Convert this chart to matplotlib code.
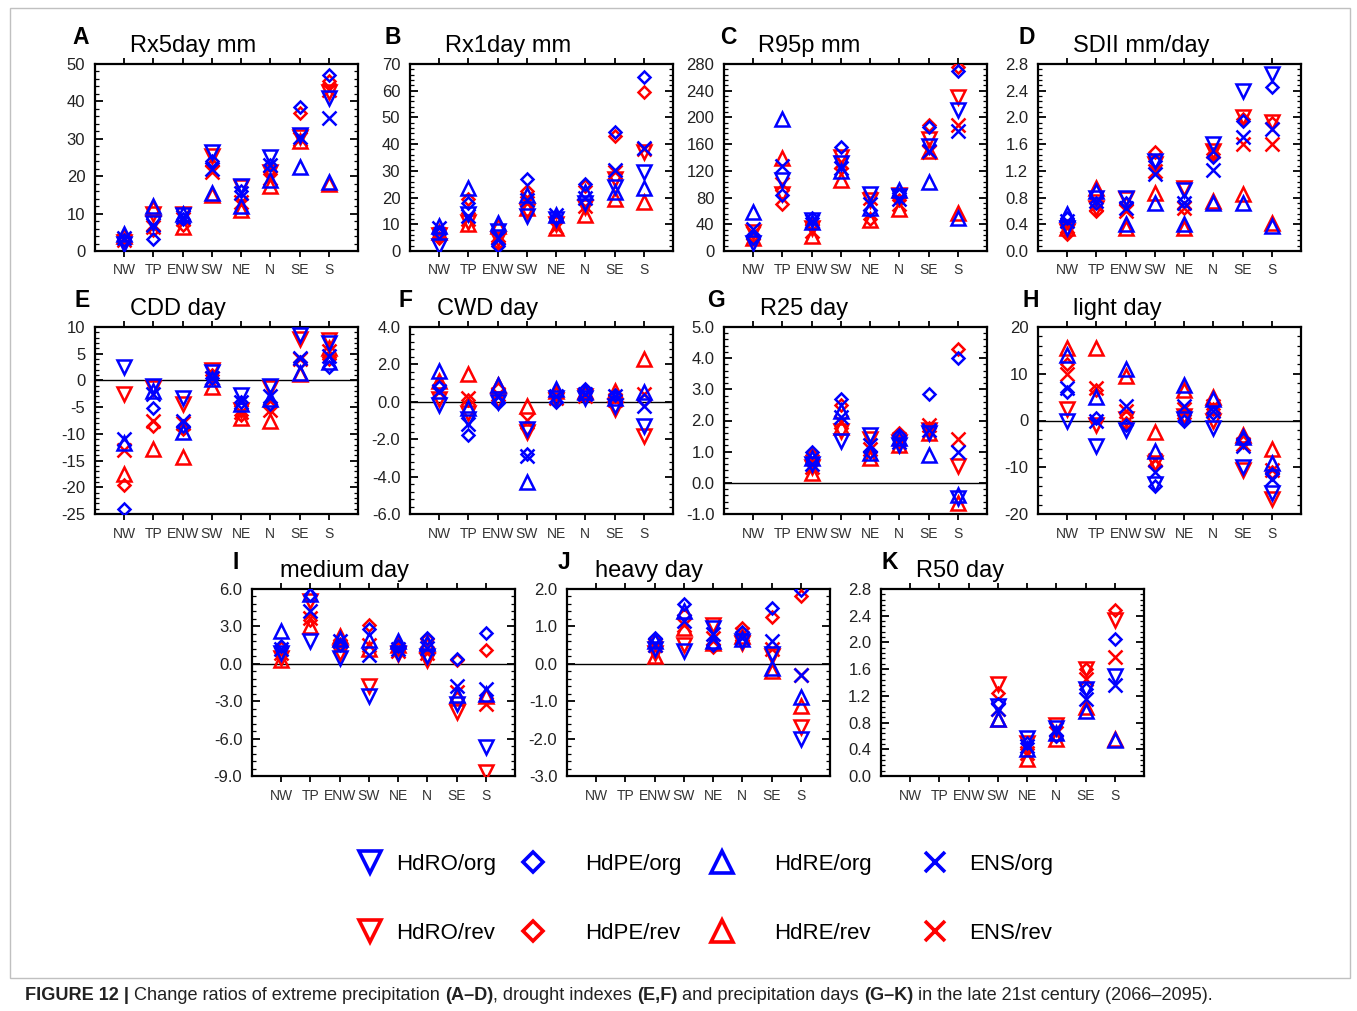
import matplotlib.pyplot as plt
import numpy as np
from matplotlib.ticker import MultipleLocator, FormatStrFormatter
from matplotlib.lines import Line2D
from matplotlib.patches import Rectangle

plt.rcParams['font.family'] = ['Liberation Sans', 'DejaVu Sans']
plt.rcParams['axes.unicode_minus'] = False

nan = np.nan
regions = ['NW', 'TP', 'ENW', 'SW', 'NE', 'N', 'SE', 'S']
series = ['HdRO/org', 'HdPE/org', 'HdRE/org', 'ENS/org',
          'HdRO/rev', 'HdPE/rev', 'HdRE/rev', 'ENS/rev']

# rows = regions (NW..S), columns = series in the order above
rx5day = [
    [2, 3, 4.5, 3.5, 2.5, 3, 4, 3],
    [7.5, 3.2, 12, 7, 10, 5.5, 11.5, 6.5],
    [9.5, 8.5, 10, 9, 10, 7, 6.5, 8.5],
    [26.5, 24, 15.5, 22, 25.5, 23, 15, 21],
    [17.5, 16, 12, 15.5, 17, 14, 11, 13],
    [25, 23, 19, 23, 21, 20.5, 17.5, 19.5],
    [31, 38.5, 22.5, 30.5, 30.5, 37, 29.5, 30],
    [41, 47, 18.5, 35.5, 42.5, 45.5, 18, 43],
]
rx1day = [
    [2, 7, 9.5, 8.5, 6, 5, 7, 6.5],
    [14, 18, 23.5, 13, 11, 19.5, 10, 12],
    [7.5, 2, 10.5, 5, 4.5, 3, 9.5, 6],
    [13, 27, 21, 19, 15, 22.5, 16, 18],
    [12, 12.5, 13.5, 13.5, 10, 11, 8.5, 9],
    [18, 25, 22, 20, 16.5, 24.5, 13.5, 17],
    [24, 44.5, 22, 30.5, 27, 43, 19.5, 29.5],
    [29.5, 65, 23.5, 38.5, 37, 59.5, 18.5, 38],
]
r95p = [
    [12, 19, 59, 33, 28, 22, 20, 27],
    [106, 84, 197, 127, 85, 70, 139, 100],
    [47, 50, 43, 45, 35, 40, 22, 30],
    [132, 155, 120, 125, 140, 124, 106, 133],
    [86, 62, 65, 70, 76, 48, 46, 80],
    [82, 84, 92, 78, 84, 76, 63, 70],
    [157, 186, 104, 150, 167, 188, 150, 148],
    [211, 269, 49, 179, 231, 276, 57, 189],
]
sdii = [
    [0.35, 0.5, 0.55, 0.45, 0.3, 0.25, 0.35, 0.38],
    [0.8, 0.72, 0.9, 0.75, 0.65, 0.6, 0.95, 0.7],
    [0.8, 0.72, 0.4, 0.65, 0.78, 0.7, 0.35, 0.6],
    [1.35, 1.35, 0.72, 1.15, 1.3, 1.48, 0.87, 1.2],
    [0.92, 0.75, 0.4, 0.72, 0.95, 0.65, 0.35, 0.65],
    [1.6, 1.4, 0.72, 1.22, 1.5, 1.45, 0.75, 1.5],
    [2.4, 1.95, 0.72, 1.7, 2.0, 1.97, 0.85, 1.6],
    [2.65, 2.45, 0.38, 1.83, 1.93, 1.92, 0.42, 1.6],
]
cdd = [
    [2.5, -24, -11.8, -11, -2.5, -19.5, -17.5, -13],
    [-1, -5.2, -2, -2.5, -1.5, -8.5, -12.8, -7.5],
    [-3.3, -8.5, -9.6, -7.5, -4.5, -9, -14.3, -8],
    [1.5, 0.5, 0.2, 0.5, 2, 1.0, -1.3, 0.5],
    [-2.8, -4, -4.5, -4, -5.5, -6.5, -7, -6],
    [-1, -4.5, -3.5, -3, -1.5, -5, -7.5, -5.5],
    [8.5, 3.5, 1.3, 4.2, 7.8, 3.5, 1.2, 4],
    [7, 2.5, 3.5, 4.5, 7.5, 4, 6, 5.5],
]
cwd = [
    [-0.15, 0.8, 1.65, 0.6, 0.15, 0.9, 1.1, 0.5],
    [-0.9, -1.8, -0.35, -1.2, -0.6, 0.1, 1.5, 0.2],
    [0.0, -0.05, 0.9, 0.3, 0.1, 0.7, 0.9, 0.4],
    [-1.45, -2.8, -4.3, -2.9, -1.6, -1.4, -0.2, -1.0],
    [0.2, 0.0, 0.7, 0.3, 0.1, 0.4, 0.6, 0.2],
    [0.2, 0.7, 0.5, 0.4, 0.3, 0.5, 0.6, 0.3],
    [-0.2, 0.35, 0.2, 0.3, -0.4, 0.3, 0.6, 0.1],
    [-1.3, 0.1, 0.55, -0.25, -1.85, 0.1, 2.3, 0.4],
]
r25 = [
    [nan] * 8,
    [nan] * 8,
    [0.6, 1.0, 0.8, 0.6, 0.5, 0.9, 0.3, 0.5],
    [1.35, 2.7, 2.3, 2.1, 1.65, 2.5, 1.8, 1.95],
    [1.55, 1.0, 0.95, 1.2, 1.4, 1.0, 0.8, 1.1],
    [1.2, 1.55, 1.45, 1.3, 1.3, 1.6, 1.2, 1.4],
    [1.6, 2.86, 0.88, 1.7, 1.7, 1.75, 1.6, 1.85],
    [-0.5, 4.0, -0.4, 1.0, 0.55, 4.3, -0.65, 1.4],
]
light = [
    [0, 6, 14, 7, 2.5, 12, 15.5, 10],
    [-5.5, 0.5, 5, 0, -1, 6.5, 15.5, 7],
    [-2, -1, 11, 3, 0.3, -0.5, 9.5, 2],
    [-13.5, -14, -6.5, -11, -9, -9.5, -2.5, -8.5],
    [0.3, 0, 7.5, 3, 1, 0.5, 6.5, 2.5],
    [-1.5, 1.5, 4.5, 2, 0, 2.5, 5, 3],
    [-10, -4, -3.5, -5.5, -10.5, -4.5, -3, -5],
    [-15.5, -11.5, -9, -12.5, -16.8, -11, -6, -10.5],
]
medium = [
    [0.9, 1.4, 2.6, 1.2, 0.5, 1.3, 0.3, 0.9],
    [1.8, 5.5, 5.6, 4.2, 5.0, 3.5, 3.0, 3.7],
    [0.5, 1.5, 2.0, 1.8, 0.9, 1.6, 2.2, 1.4],
    [-2.6, 2.8, 1.9, 0.7, -1.8, 3.1, 1.2, 1.5],
    [0.9, 1.4, 1.8, 1.2, 0.8, 1.2, 1.5, 1.0],
    [0.6, 2.1, 1.7, 1.3, 0.3, 2.0, 1.5, 0.9],
    [-3.2, 0.4, -2.5, -1.8, -3.9, 0.3, -2.6, -2.3],
    [-6.7, 2.5, -2.4, -2.0, -8.7, 1.1, -2.6, -3.2],
]
heavy = [
    [nan] * 8,
    [nan] * 8,
    [0.4, 0.7, 0.6, 0.5, 0.3, 0.6, 0.2, 0.5],
    [0.35, 1.6, 1.4, 1.15, 0.5, 1.3, 0.95, 1.05],
    [0.95, 0.5, 0.6, 0.8, 1.05, 0.45, 0.55, 0.7],
    [0.6, 0.85, 0.65, 0.7, 0.55, 0.95, 0.75, 0.8],
    [0.25, 1.5, -0.1, 0.6, 0.2, 1.25, -0.2, 0.4],
    [-2.0, 1.98, -0.88, -0.3, -1.7, 1.82, -1.12, -0.3],
]
r50 = [
    [nan] * 8,
    [nan] * 8,
    [nan] * 8,
    [1.05, 1.08, 0.85, 1.0, 1.38, 1.25, 0.85, 1.0],
    [0.57, 0.5, 0.4, 0.45, 0.5, 0.4, 0.26, 0.35],
    [0.72, 0.6, 0.65, 0.7, 0.77, 0.6, 0.55, 0.65],
    [1.3, 1.3, 0.98, 1.15, 1.6, 1.6, 1.04, 1.45],
    [1.5, 2.05, 0.54, 1.37, 2.33, 2.48, 0.55, 1.78],
]

W, H = 1357, 1011
fig = plt.figure(figsize=(W / 100, H / 100), dpi=100)

markers = {'HdRO': ('v', 10), 'HdPE': ('D', 6.5), 'HdRE': ('^', 10), 'ENS': ('x', 10)}
colors = {'org': 'blue', 'rev': 'red'}

# letter, title, data, ylim, step, fmt, zero line, box (left, top), title dx, letter dx
panels = [
    ('A', 'Rx5day mm', rx5day, (0, 50), 10, '%d', False, (95, 64), 35, -23),
    ('B', 'Rx1day mm', rx1day, (0, 70), 10, '%d', False, (410, 64), 35, -25),
    ('C', 'R95p mm', r95p, (0, 280), 40, '%d', False, (724, 64), 34, -4),
    ('D', 'SDII mm/day', sdii, (0, 2.8), 0.4, '%.1f', False, (1038, 64), 35, -20),
    ('E', 'CDD day', cdd, (-25, 10), 5, '%d', True, (95, 327), 35, -20),
    ('F', 'CWD day', cwd, (-6, 4), 2, '%.1f', True, (410, 327), 27, -12),
    ('G', 'R25 day', r25, (-1, 5), 1, '%.1f', True, (724, 327), 36, -17),
    ('H', 'light day', light, (-20, 20), 10, '%d', True, (1038, 327), 35, -16),
    ('I', 'medium day', medium, (-9, 6), 3, '%.1f', True, (252, 589), 28, -20),
    ('J', 'heavy day', heavy, (-3, 2), 1, '%.1f', True, (567, 589), 28, -9),
    ('K', 'R50 day', r50, (0, 2.8), 0.4, '%.1f', False, (881, 589), 35, 1),
]
box_w, box_h = 263, 187
xs = np.arange(1, len(regions) + 1)

for letter, title, data, ylim, step, fmt, zero, (bl, bt), tdx, ldx in panels:
    ax = fig.add_axes([bl / W, 1 - (bt + box_h) / H, box_w / W, box_h / H])
    vals = np.array(data, dtype=float).T
    for j in [4, 5, 6, 7, 0, 1, 2, 3]:
        model, kind = series[j].split('/')
        mk, ms = markers[model]
        ax.plot(xs, vals[j], ls='none', marker=mk, ms=ms, mfc='none',
                mec=colors[kind], mew=1.8, zorder=3)
    if zero:
        ax.axhline(0, color='black', lw=1.0, zorder=2)
    ax.set_xlim(0, 9)
    ax.set_ylim(*ylim)
    ax.set_xticks(xs)
    ax.set_xticklabels(regions, fontsize=10, color='#333333')
    ax.yaxis.set_major_locator(MultipleLocator(step))
    ax.yaxis.set_minor_locator(MultipleLocator(step / 5))
    ax.yaxis.set_major_formatter(FormatStrFormatter(fmt))
    ax.tick_params(axis='x', which='major', direction='out', length=4, width=1.3,
                   top=True, bottom=True, pad=5)
    ax.tick_params(axis='y', which='major', direction='in', length=6, width=1.3,
                   left=True, right=True, labelsize=12, pad=7, labelcolor='#222222')
    ax.tick_params(axis='y', which='minor', direction='in', length=3, width=0.9,
                   left=True, right=True)
    for sp in ax.spines.values():
        sp.set_linewidth(1.6)
    fig.text((bl + ldx) / W, 1 - (bt - 20) / H, letter, fontsize=16.5,
             fontweight='bold', va='baseline')
    fig.text((bl + tdx) / W, 1 - (bt - 12) / H, title, fontsize=17,
             va='baseline')

# legend: one small legend per model, org above rev
leg_cols = [('HdRO', 370, 0.4), ('HdPE', 533, 1.6), ('HdRE', 722, 1.6), ('ENS', 935, 0.8)]
leg_ms = {'HdRO': 15.5, 'HdPE': 10, 'HdRE': 15.5, 'ENS': 15}
for model, cx, tpad in leg_cols:
    mk = markers[model][0]
    hs = [Line2D([], [], ls='none', marker=mk, ms=leg_ms[model], mfc='none',
                 mec=colors[k], mew=2.6) for k in ['org', 'rev']]
    fig.legend(handles=hs, labels=[model + '/org', model + '/rev'],
               loc='center left', bbox_to_anchor=((cx - 16.5) / W, 1 - 899 / H),
               frameon=False, fontsize=16, handlelength=1.5, handletextpad=tpad,
               labelspacing=2.15, borderpad=0, borderaxespad=0, numpoints=1)

# caption
renderer = fig.canvas.get_renderer()
pieces = [('FIGURE 12 | ', 'bold'), ('Change ratios of extreme precipitation ', 'normal'),
          ('(A–D)', 'bold'), (', drought indexes ', 'normal'), ('(E,F)', 'bold'),
          (' and precipitation days ', 'normal'), ('(G–K)', 'bold'),
          (' in the late 21st century (2066–2095).', 'normal')]
cx = 25
for txt, wgt in pieces:
    t = fig.text(cx / W, 1 - 1000 / H, txt, fontsize=13.1, fontweight=wgt,
                 va='baseline', color='#222222')
    cx += t.get_window_extent(renderer).width

fig.add_artist(Rectangle((10 / W, 1 - 978 / H), 1340 / W, 970 / H, transform=fig.transFigure,
                         fill=False, ec='#c0c0c0', lw=1))

plt.savefig('out.png', dpi=100)
plt.close()
